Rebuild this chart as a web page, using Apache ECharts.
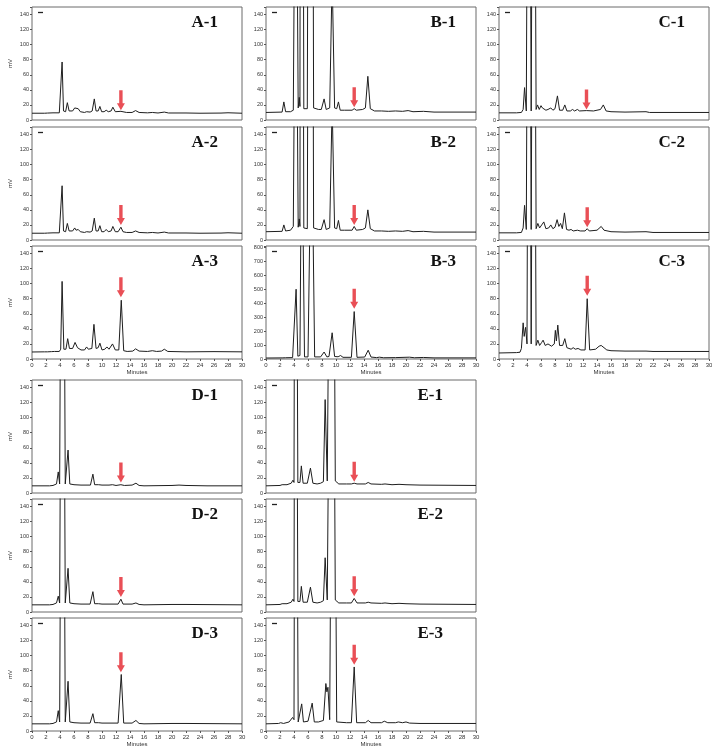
<!DOCTYPE html>
<html><head><meta charset="utf-8">
<script src="https://cdn.jsdelivr.net/npm/echarts@6/dist/echarts.min.js"></script>
<style>html,body{margin:0;padding:0;background:#fff}#c{width:712px;height:747px}</style>
</head><body><div id="c"></div>
<script>
// ---- data (time in minutes, response in mV) ----
const panelNames = ['A-1','A-2','A-3','B-1','B-2','B-3','C-1','C-2','C-3','D-1','D-2','D-3','E-1','E-2','E-3'];
const xTicks = [0,2,4,6,8,10,12,14,16,18,20,22,24,26,28,30];

const A1 = [[0,9],[1.8,9],[2,10.5],[2.2,9.2],[3,9.5],[3.9,9.5],[4.1,11],[4.3,77],[4.5,12],[4.8,11],[5.05,23],[5.3,12],[5.8,12],[6.1,16],[6.3,14],[6.6,15],[6.9,11],[7.5,10],[7.8,11],[8.3,10.5],[8.6,12],[8.9,28],[9.15,12],[9.45,12],[9.7,18],[9.95,11],[10.3,11],[10.6,13],[10.9,11],[11.3,12],[11.55,17],[11.9,11],[12.7,11.5],[13.5,10],[14.3,10],[14.8,12.5],[15.3,10],[16.5,9.5],[17.2,10],[18,9.3],[18.9,10.5],[19.5,9.3],[22,9.3],[24,9],[27,9.2],[28,9.6],[30,9]];
const A2 = [[0,9],[1.8,9],[2,10.5],[2.2,9.2],[3,9.5],[3.9,9.5],[4.1,11],[4.3,72],[4.5,12],[4.8,11],[5.05,22],[5.3,12],[5.8,12],[6.1,16],[6.3,13],[6.6,14],[6.9,11],[7.5,10],[7.8,11],[8.3,10.5],[8.6,12],[8.9,29],[9.15,12],[9.45,12],[9.7,19],[9.95,11],[10.3,11],[10.6,14],[10.9,11],[11.3,12],[11.55,18],[11.9,11],[12.3,11],[12.7,17],[13.0,11],[13.5,10],[14.3,10],[14.8,12],[15.3,10],[16.5,9.5],[17.2,10],[18,9.3],[18.9,10.5],[19.5,9.3],[22,9.3],[24,9],[27,9.2],[28,9.6],[30,9]];
const A3 = [[0,9.3],[1.8,9.5],[2,11],[2.2,9.5],[2.8,9.8],[3,12],[3.2,10],[3.9,10],[4.1,13],[4.3,103],[4.55,13],[4.85,13],[5.1,27],[5.35,14],[5.8,14],[6.15,22],[6.5,15],[7.0,12],[7.5,12],[7.8,16],[8.05,13],[8.3,15],[8.55,14],[8.85,46],[9.15,14],[9.45,15],[9.7,21],[10.0,12],[10.4,13],[10.7,16],[11.0,13],[11.5,20],[11.9,12],[12.4,12],[12.75,78],[13.1,11],[13.6,10],[14.4,10.5],[14.8,13.5],[15.3,10.5],[16.5,10],[17.2,11],[17.8,10],[18.5,10.5],[18.9,13],[19.4,10],[22,9.5],[26,9.8],[30,9.5]];
const B1 = [[0,10],[2.3,10.5],[2.55,24],[2.8,11],[3.5,11],[3.9,13],[4.25,500],[4.6,16],[4.75,30],[4.85,18],[5.05,1500],[5.4,15],[5.9,15],[6.4,1500],[6.8,16],[7.5,14],[7.9,14],[8.3,28],[8.6,14],[9.1,16],[9.45,190],[9.8,16],[10.1,15],[10.35,24],[10.6,13],[11.2,13],[12.3,13],[12.6,15],[12.9,13],[13.8,14],[14.2,16],[14.55,58],[14.9,15],[15.5,12],[16.5,12],[17.5,11.5],[18.5,12],[19.5,11.5],[20.3,12.5],[21,11],[22.5,11.5],[24,10.5],[27,10.5],[30,10.5]];
const B2 = [[0,11],[2.3,11.5],[2.55,20],[2.8,12],[3.5,13],[3.9,18],[4.25,480],[4.6,17],[4.75,28],[4.85,18],[5.05,1500],[5.4,16],[5.9,15],[6.4,1500],[6.8,16],[7.5,14],[7.9,14],[8.3,27],[8.6,14],[9.1,16],[9.45,180],[9.8,16],[10.1,15],[10.35,26],[10.6,13],[11.2,13],[12.3,13],[12.6,18],[12.9,13],[13.8,14],[14.2,16],[14.55,40],[14.9,15],[15.5,12],[16.5,12],[17.5,11.5],[18.5,12],[19.5,11.5],[20.3,12.5],[21,11],[22.5,11.5],[24,10.5],[27,10.5],[30,10.5]];
const B3 = [[0,7],[2.3,8],[2.55,15],[2.8,9],[3.8,10],[4.3,500],[4.55,20],[4.75,30],[4.85,25],[5.1,1800],[5.5,15],[6.0,15],[6.5,1800],[6.95,15],[7.8,15],[8.3,50],[8.7,15],[9.0,18],[9.45,188],[9.8,18],[10.3,16],[10.65,25],[11.0,12],[12.2,12],[12.6,340],[13.0,12],[14.1,14],[14.6,63],[15.0,14],[15.8,10],[16.2,13],[16.8,9],[18.5,10],[20.5,13],[21.2,9],[22.5,11],[24,8],[30,8]];
const C1 = [[0,9.5],[2.5,9.5],[3.2,10],[3.45,14],[3.65,43],[3.9,12],[4.0,12],[4.25,800],[4.6,12],[4.75,14],[4.95,800],[5.3,14],[5.5,20],[5.75,14],[6.0,19],[6.2,16],[6.45,18],[6.7,13],[7.0,14],[7.4,16],[7.7,13],[8.0,15],[8.35,32],[8.65,13],[9.1,13],[9.4,20],[9.7,12],[10.2,12],[10.5,14],[10.8,12],[11.2,14],[11.5,12],[12.5,12.5],[13.5,12],[14.5,14],[14.9,20],[15.3,12],[16,11],[18,10.5],[21,11],[21.5,10],[23,10],[26,10],[30,10]];
const C2 = [[0,9.5],[2.5,9.5],[3.2,10],[3.45,16],[3.65,46],[3.9,14],[4.25,800],[4.6,14],[4.95,800],[5.3,15],[5.55,22],[5.8,16],[6.1,20],[6.4,24],[6.7,15],[7.1,16],[7.4,20],[7.7,15],[8.0,17],[8.3,27],[8.55,18],[8.8,22],[9.05,15],[9.35,36],[9.65,14],[10.0,13],[10.3,14],[10.6,12],[11.2,13],[11.6,12],[12.3,12],[12.6,15],[12.9,12],[14.0,13],[14.6,18],[15.0,13],[16,11],[18,10.5],[21,11],[22,10],[26,10],[30,10]];
const C3 = [[0,8],[2.5,8.5],[3.0,9],[3.2,14],[3.45,48],[3.6,30],[3.8,42],[4.0,20],[4.25,800],[4.6,20],[4.95,800],[5.3,18],[5.55,25],[5.8,18],[6.1,22],[6.3,25],[6.6,18],[7.0,20],[7.2,22],[7.5,17],[7.9,20],[8.05,38],[8.2,24],[8.4,45],[8.65,18],[9.1,18],[9.4,27],[9.7,15],[10.3,13],[10.6,15],[10.9,13],[11.3,14],[11.7,12],[12.3,12],[12.6,80],[12.95,12],[13.8,13],[14.3,17],[14.6,18],[15.0,15],[15.4,12],[16,11],[18,10.5],[21,10.5],[22,10],[26,10],[30,10]];
const D1 = [[0,9.5],[2.5,9.5],[3.0,10],[3.5,12],[3.75,28],[3.95,12],[4.35,800],[4.75,12],[5.15,57],[5.4,12],[6,11],[7,10.5],[8.35,10.5],[8.7,25],[8.95,11],[9.5,11],[9.7,12],[10.0,10.5],[11.0,10.5],[11.5,11],[12.0,10],[12.7,11],[13.2,10],[14.3,10.5],[14.85,13],[15.3,10],[16,9.5],[20,10],[21,10.5],[22,10],[25,9.5],[30,9.5]];
const D2 = [[0,9.5],[2.5,9.5],[3.0,10],[3.5,12],[3.75,21],[3.95,12],[4.35,800],[4.75,12],[5.15,58],[5.4,12],[6,11],[7,10.5],[8.3,10.5],[8.7,27],[8.95,11],[9.5,11],[9.7,12],[10.0,10.5],[11.0,10.5],[12.3,10.5],[12.7,17],[13.0,10.5],[14.3,10.5],[14.85,12],[15.3,10],[16,9.5],[20,10],[22,10],[30,9.5]];
const D3 = [[0,9.5],[2.5,9.5],[3.0,10],[3.5,12],[3.75,27],[3.95,12],[4.35,800],[4.75,12],[5.15,66],[5.4,12],[6,11],[7,10.5],[8.3,10.5],[8.7,23],[8.95,11],[9.5,11],[10.0,10.5],[11.0,10.5],[12.3,10.5],[12.75,75],[13.1,10.5],[14.3,10.5],[14.85,14],[15.3,10],[16,9.5],[20,10],[22,10],[30,9.5]];
const E1 = [[0,9.5],[2,10],[2.3,11],[3.0,11],[3.6,13],[3.85,17],[4.0,14],[4.2,800],[4.55,14],[4.85,14],[5.05,36],[5.3,13],[5.9,13],[6.35,33],[6.7,13],[7.3,12],[7.8,13],[8.2,15],[8.45,124],[8.75,16],[9.0,16],[9.45,800],[9.9,16],[10.4,12],[11.5,12],[12.2,12],[12.6,13],[13.0,12],[14.2,12],[14.6,14],[15.0,12],[16.5,11.5],[17,12],[18,11],[19,11.5],[20,11],[22,10.5],[30,10]];
const E2 = [[0,9.5],[2,10],[2.3,11],[3.0,11],[3.6,13],[3.85,17],[4.0,14],[4.2,800],[4.55,14],[4.85,14],[5.05,34],[5.3,13],[5.9,13],[6.35,33],[6.7,13],[7.3,12],[7.8,13],[8.2,15],[8.45,72],[8.75,16],[9.0,16],[9.45,800],[9.9,16],[10.4,12],[11.5,12],[12.2,12],[12.6,18],[13.0,12],[14.2,12],[14.6,13],[15.0,12],[16.5,11.5],[17,12],[18,11],[19,11.5],[20,11],[22,10.5],[30,10]];
const E3 = [[0,9.5],[1.8,10],[2.1,11],[2.5,10],[3.3,12],[3.8,18],[4.0,15],[4.2,800],[4.6,12],[4.85,12],[5.1,36],[5.35,12],[6.0,13],[6.6,37],[6.9,12],[7.5,12],[8.2,14],[8.55,63],[8.7,52],[8.85,58],[9.1,15],[9.6,800],[10.1,12],[11.5,11],[12.2,11],[12.6,85],[12.95,11],[14.2,11],[14.6,14],[15.0,11],[16.5,11],[16.9,13],[17.4,11],[18.5,11],[18.9,12],[19.5,11],[20,12],[20.5,10.5],[22,10],[30,10]];
const traces = [A1,A2,A3,B1,B2,B3,C1,C2,C3,D1,D2,D3,E1,E2,E3];

// red arrows: retention time and tip value (mV)
const arrowTime = [12.7,12.7,12.7,12.6,12.6,12.6,12.5,12.6,12.6,12.7,12.7,12.7,12.6,12.6,12.6];
const arrowTip  = [13,20,82,17,20,360,14,17,84,14,20,78,15,21,88];

// y-axis scales
const yMax  = [150,150,150,150,150,810,150,150,150,150,150,150,150,150,150];
const yStep = [20,20,20,20,20,100,20,20,20,20,20,20,20,20,20];

// ---- layout ----
const colLeft = [32, 266, 499];
const rowTop = [7, 127, 246, 380, 499, 618];
const PW = 210, PH = 113;
const panelCol = [0,0,0,1,1,1,2,2,2,0,0,0,1,1,1];
const panelRow = [0,1,2,0,1,2,0,1,2,3,4,5,3,4,5];
const titleInset = [24,24,24,20,20,20,24,24,24,24,24,24,33,33,33];
const bottomRows = [2,5];

const grids=[], xAxes=[], yAxes=[], series=[], titles=[], graphics=[];
const ARROW = 'path://M2.3,0 L5.7,0 L5.7,13 L8,13 L4,20 L0,13 L2.3,13 Z';
panelNames.forEach((name,i)=>{
  const L = colLeft[panelCol[i]], T = rowTop[panelRow[i]];
  const isBottom = bottomRows.includes(panelRow[i]);
  const isLeftCol = panelCol[i]===0;
  grids.push({left:L, top:T, width:PW, height:PH, show:true, borderColor:'#6a6a6a', borderWidth:1, backgroundColor:'#fff',
    containLabel:false, outerBoundsMode:'none'});
  xAxes.push({gridIndex:i, type:'value', min:0, max:30, interval:2,
    axisLine:{show:false}, splitLine:{show:false},
    axisTick:{show:isBottom, length:2, lineStyle:{color:'#555'}},
    axisLabel:{show:isBottom, fontSize:6, color:'#333', margin:3, fontFamily:'Liberation Sans',
      formatter:v=> xTicks.includes(v)? String(v):''},
    name: isBottom? 'Minutes':'', nameLocation:'middle', nameGap:10,
    nameTextStyle:{fontSize:6, color:'#333', fontFamily:'Liberation Sans'}});
  yAxes.push({gridIndex:i, type:'value', min:0, max:yMax[i], interval:yStep[i],
    axisLine:{show:false}, splitLine:{show:false},
    axisTick:{show:true, length:2, lineStyle:{color:'#555'}},
    axisLabel:{fontSize:5.5, color:'#333', margin:3, fontFamily:'Liberation Sans',
      formatter:v=> (v % yStep[i]===0)? String(v):''},
    name: isLeftCol? 'mV':'', nameLocation:'middle', nameGap:19, nameRotate:90,
    nameTextStyle:{fontSize:6, color:'#333', fontFamily:'Liberation Sans'}});
  series.push({type:'line', xAxisIndex:i, yAxisIndex:i, data:traces[i], showSymbol:false,
    lineStyle:{color:'#1e1e1e', width:1}, clip:true, silent:true, z:2});
  series.push({type:'scatter', xAxisIndex:i, yAxisIndex:i, data:[[arrowTime[i], arrowTip[i]]],
    symbol:ARROW, symbolSize:[8,20], symbolOffset:[0,-10], itemStyle:{color:'#e3232c'}, silent:true, z:3});
  titles.push({text:name, right: 712-(L+PW)+titleInset[i], top:T+7, padding:0,
    textStyle:{fontFamily:'Liberation Serif', fontWeight:'bold', fontSize:17, color:'#111'}});
  graphics.push({type:'line', shape:{x1:L+6, y1:T+5.5, x2:L+11, y2:T+5.5}, style:{stroke:'#222', lineWidth:1.3}});
});

const chart = echarts.init(document.getElementById('c'), null, {renderer:'canvas'});
chart.setOption({animation:false, backgroundColor:'#fff', title:titles, grid:grids, xAxis:xAxes, yAxis:yAxes, series:series, graphic:graphics});
</script></body></html>
